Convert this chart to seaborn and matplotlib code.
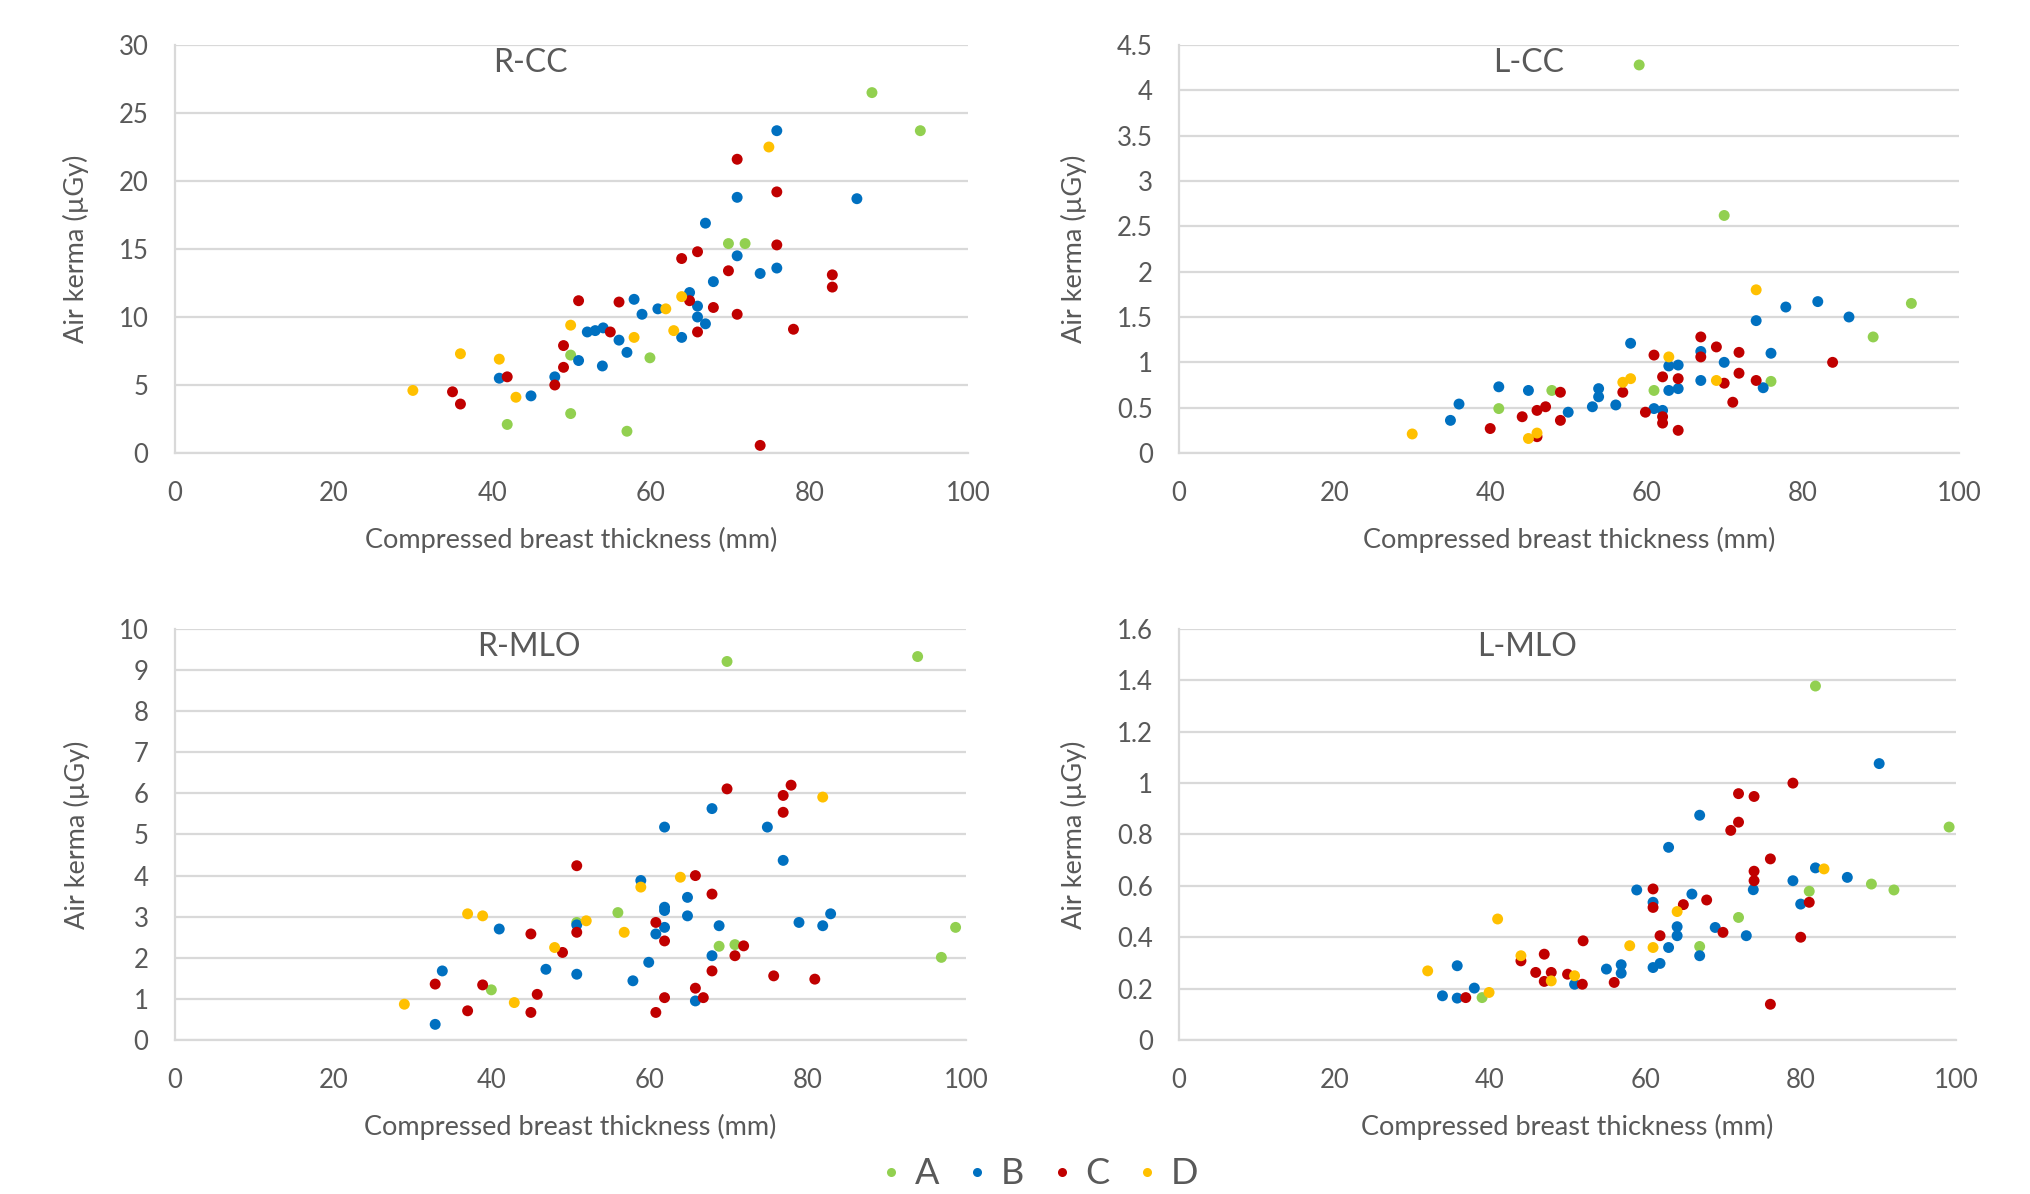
import pandas as pd
import matplotlib.pyplot as plt
from matplotlib.lines import Line2D
from matplotlib.ticker import FuncFormatter
import seaborn as sns

# R-CC
rcc_a_x = [87.9, 94, 69.8, 71.9, 49.9, 59.9, 49.9, 41.9, 57]
rcc_a_y = [26.5, 23.7, 15.4, 15.4, 7.2, 7.0, 2.9, 2.1, 1.6]
rcc_b_x = [75.9, 70.9, 86, 66.9, 70.9, 75.9, 73.8, 67.9, 57.9, 64.9, 60.9, 58.9, 65.9, 65.9,
           66.9, 52, 53, 54, 56, 63.9, 57, 50.9, 53.9, 47.9, 40.9, 44.9]
rcc_b_y = [23.7, 18.8, 18.7, 16.9, 14.5, 13.6, 13.2, 12.6, 11.3, 11.8, 10.6, 10.2, 10.8, 10.0,
           9.5, 8.9, 9.0, 9.2, 8.3, 8.5, 7.4, 6.8, 6.4, 5.6, 5.5, 4.2]
rcc_c_x = [70.9, 75.9, 75.9, 65.9, 63.9, 69.8, 82.9, 82.9, 50.9, 56, 64.9, 67.9, 70.9, 78,
           54.9, 65.9, 49, 49, 41.9, 47.9, 35, 36, 73.8]
rcc_c_y = [21.6, 19.2, 15.3, 14.8, 14.3, 13.4, 13.1, 12.2, 11.2, 11.1, 11.2, 10.7, 10.2, 9.1,
           8.9, 8.9, 7.9, 6.3, 5.6, 5.0, 4.5, 3.6, 0.56]
rcc_d_x = [74.9, 63.9, 61.9, 49.9, 62.9, 57.9, 36, 40.9, 43, 30]
rcc_d_y = [22.5, 11.5, 10.6, 9.4, 9.0, 8.5, 7.3, 6.9, 4.1, 4.6]

# L-CC
lcc_a_x = [59, 69.9, 93.9, 89, 75.9, 60.9, 47.8, 41]
lcc_a_y = [4.28, 2.62, 1.65, 1.28, 0.79, 0.69, 0.69, 0.49]
lcc_b_x = [81.9, 77.8, 85.9, 74, 57.9, 75.9, 66.9, 69.9, 62.8, 64, 66.9, 74.9, 62.8, 64,
           53.8, 53.8, 41, 44.8, 35.9, 34.8, 49.9, 53, 56, 60.9, 62]
lcc_b_y = [1.67, 1.61, 1.5, 1.46, 1.21, 1.10, 1.12, 1.0, 0.96, 0.97, 0.80, 0.72, 0.69, 0.71,
           0.71, 0.62, 0.73, 0.69, 0.54, 0.36, 0.45, 0.51, 0.53, 0.49, 0.47]
lcc_c_x = [66.9, 68.9, 71.8, 60.9, 66.9, 83.8, 71.8, 62, 64, 74, 69.9, 71, 56.9, 48.9,
           47, 45.9, 44, 48.9, 59.8, 62, 62, 64, 39.9, 45.9]
lcc_c_y = [1.28, 1.17, 1.11, 1.08, 1.06, 1.0, 0.88, 0.84, 0.82, 0.80, 0.77, 0.56, 0.67, 0.67,
           0.51, 0.47, 0.40, 0.36, 0.45, 0.40, 0.33, 0.25, 0.27, 0.18]
lcc_d_x = [74, 62.8, 57.9, 56.9, 68.9, 45.9, 44.8, 29.9]
lcc_d_y = [1.80, 1.06, 0.82, 0.78, 0.80, 0.22, 0.16, 0.21]

# R-MLO
rmlo_a_x = [69.8, 93.9, 98.7, 96.9, 56, 50.8, 68.8, 70.8, 40]
rmlo_a_y = [9.21, 9.33, 2.74, 2.01, 3.1, 2.86, 2.28, 2.32, 1.22]
rmlo_b_x = [67.9, 61.9, 74.9, 76.9, 58.9, 64.8, 61.9, 61.9, 64.8, 82.9, 78.9, 81.9, 68.8,
            61.9, 60.8, 50.8, 41, 67.9, 59.9, 46.9, 50.8, 57.9, 33.8, 65.8, 32.9]
rmlo_b_y = [5.63, 5.18, 5.18, 4.37, 3.88, 3.47, 3.23, 3.15, 3.02, 3.07, 2.86, 2.78, 2.78,
            2.74, 2.58, 2.8, 2.7, 2.05, 1.89, 1.72, 1.60, 1.44, 1.68, 0.95, 0.38]
rmlo_c_x = [69.8, 77.9, 76.9, 76.9, 50.8, 65.8, 67.9, 60.8, 61.9, 71.9, 70.8, 50.8, 45, 49,
            67.9, 75.7, 80.9, 65.8, 66.8, 61.9, 45.8, 38.9, 32.9, 37, 45, 60.8]
rmlo_c_y = [6.11, 6.2, 5.95, 5.54, 4.24, 4.0, 3.55, 2.86, 2.41, 2.29, 2.05, 2.62, 2.58, 2.13,
            1.68, 1.56, 1.48, 1.26, 1.03, 1.03, 1.11, 1.34, 1.36, 0.71, 0.67, 0.67]
rmlo_d_x = [81.9, 63.9, 58.9, 37, 38.9, 52, 56.8, 48, 42.9, 29]
rmlo_d_y = [5.91, 3.96, 3.72, 3.07, 3.02, 2.9, 2.62, 2.25, 0.91, 0.87]

# L-MLO
lmlo_a_x = [81.9, 99.1, 89.1, 92, 81.1, 72, 67, 39]
lmlo_a_y = [1.378, 0.829, 0.607, 0.584, 0.579, 0.477, 0.364, 0.165]
lmlo_b_x = [90.1, 67, 63, 81.9, 86, 79, 73.9, 58.9, 66, 61, 80, 64.1, 64.1, 69, 73, 63, 67,
            56.9, 56.9, 55, 61.9, 61, 35.8, 38, 33.9, 35.8, 50.9]
lmlo_b_y = [1.076, 0.875, 0.75, 0.67, 0.633, 0.62, 0.585, 0.584, 0.568, 0.536, 0.529, 0.441,
            0.406, 0.438, 0.406, 0.36, 0.328, 0.293, 0.26, 0.276, 0.298, 0.282, 0.289, 0.202,
            0.172, 0.163, 0.217]
lmlo_c_x = [79, 72, 74, 72, 71, 76.1, 74, 74, 81.1, 61, 61, 64.9, 67.9, 70, 61.9, 80, 52, 47,
            44, 45.9, 47.9, 47, 50, 51.9, 56, 36.9, 76.1]
lmlo_c_y = [1.0, 0.959, 0.948, 0.848, 0.816, 0.705, 0.657, 0.62, 0.536, 0.588, 0.516, 0.527,
            0.545, 0.419, 0.406, 0.4, 0.386, 0.334, 0.308, 0.263, 0.263, 0.228, 0.256, 0.217,
            0.224, 0.165, 0.139]
lmlo_d_x = [83, 64.1, 41, 58, 61, 44, 32, 50.9, 47.9, 39.9]
lmlo_d_y = [0.666, 0.5, 0.471, 0.367, 0.36, 0.328, 0.269, 0.25, 0.23, 0.185]

groups = ["A", "B", "C", "D"]
colors = {"A": "#92D050", "B": "#0070C0", "C": "#C00000", "D": "#FFC000"}

panels = [
    ("R-CC", [(rcc_a_x, rcc_a_y), (rcc_b_x, rcc_b_y), (rcc_c_x, rcc_c_y), (rcc_d_x, rcc_d_y)], 30, 5),
    ("L-CC", [(lcc_a_x, lcc_a_y), (lcc_b_x, lcc_b_y), (lcc_c_x, lcc_c_y), (lcc_d_x, lcc_d_y)], 4.5, 0.5),
    ("R-MLO", [(rmlo_a_x, rmlo_a_y), (rmlo_b_x, rmlo_b_y), (rmlo_c_x, rmlo_c_y), (rmlo_d_x, rmlo_d_y)], 10, 1),
    ("L-MLO", [(lmlo_a_x, lmlo_a_y), (lmlo_b_x, lmlo_b_y), (lmlo_c_x, lmlo_c_y), (lmlo_d_x, lmlo_d_y)], 1.6, 0.2),
]

sns.set_style("white")
plt.rcParams["font.family"] = ["Lato", "DejaVu Sans"]
txt = "#595959"
grid = "#D9D9D9"

fig = plt.figure(figsize=(20.3, 11.94), dpi=100)
rects = [
    [0.0862, 0.6206, 0.3906, 0.3417],
    [0.5808, 0.6206, 0.3842, 0.3417],
    [0.0862, 0.1290, 0.3896, 0.3442],
    [0.5808, 0.1290, 0.3828, 0.3442],
]

for (name, series, ymax, step), rect in zip(panels, rects):
    ax = fig.add_axes(rect)
    frames = []
    for g, (xs, ys) in zip(groups, series):
        frames.append(pd.DataFrame({"x": xs, "y": ys, "g": g}))
    df = pd.concat(frames, ignore_index=True)
    sns.scatterplot(data=df, x="x", y="y", hue="g", hue_order=groups, palette=colors,
                    s=62, linewidth=0, legend=False, ax=ax, zorder=3)
    ax.set_xlim(0, 100)
    ax.set_ylim(0, ymax)
    ax.set_xticks(range(0, 101, 20))
    n = int(round(ymax / step))
    ax.set_yticks([round(i * step, 2) for i in range(n + 1)])
    ax.yaxis.set_major_formatter(FuncFormatter(lambda v, p: f"{v:g}"))
    ax.grid(axis="y", color=grid, linewidth=1.6, zorder=0)
    ax.grid(axis="x", visible=False)
    ax.set_axisbelow(True)
    for s in ["top", "right"]:
        ax.spines[s].set_visible(False)
    for s in ["left", "bottom"]:
        ax.spines[s].set_color(grid)
        ax.spines[s].set_linewidth(1.6)
    ax.tick_params(axis="both", length=0, labelsize=18.5, labelcolor=txt)
    ax.tick_params(axis="y", pad=19)
    ax.tick_params(axis="x", pad=20)
    ax.set_xlabel("Compressed breast thickness (mm)", fontsize=19.5, color=txt, labelpad=15)
    ax.set_ylabel("Air kerma (µGy)", fontsize=19.5, color=txt, labelpad=21)
    ax.text(0.448, 0.957, name, transform=ax.transAxes, ha="center", va="center",
            fontsize=23, color=txt)

handles = [Line2D([], [], marker="o", linestyle="", markersize=6.5,
                  markerfacecolor=colors[g], markeredgewidth=0) for g in groups]
fig.legend(handles, groups, loc="center", bbox_to_anchor=(0.512, 0.017), ncol=4,
           frameon=False, fontsize=26, labelcolor=txt, handlelength=0.6,
           handletextpad=0.35, columnspacing=0.75)

plt.savefig("out.png", dpi=100)
